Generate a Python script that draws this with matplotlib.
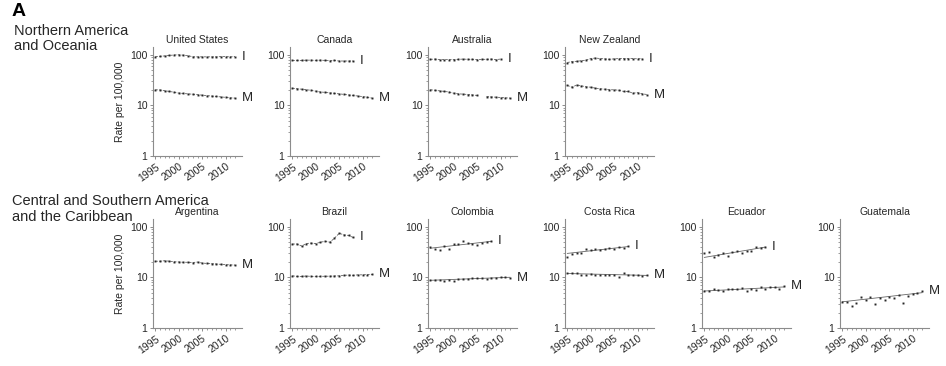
import numpy as np
import matplotlib
matplotlib.use("Agg")
import matplotlib.pyplot as plt
from matplotlib.ticker import FixedLocator, NullFormatter, LogLocator

plt.rcParams['font.family'] = ['Liberation Sans', 'DejaVu Sans']

years = list(range(1995, 2013))
nan = np.nan

# incidence (I) and mortality (M), rate per 100,000
us_inc = [93, 94, 96, 98, 100, 101, 99, 97, 92, 92, 92, 92, 92, 92, 93, 93, 92, 93]
us_mort = [20.5, 20.3, 19.6, 19.0, 18.3, 17.6, 17.3, 17.0, 16.7, 16.4, 16.0, 15.7, 15.4, 15.1, 14.8, 14.5, 14.2, 14.0]
ca_inc = [78, 78, 78, 79, 79, 78, 79, 78, 77, 78, 76, 76, 76, 76, nan, nan, nan, nan]
ca_mort = [22, 21.5, 21, 20.5, 20, 19.2, 18.5, 18.2, 17.8, 17.4, 17, 16.6, 16.2, 15.8, 15.4, 15, 14.6, 14.0]
au_inc = [82, 83, 81, 81, 81, 81, 82, 83, 82, 82, 81, 82, 82, 83, 81, 83, nan, nan]
au_mort = [20.5, 20, 19.5, 19, 18.5, 17.5, 17, 16.8, 16.5, 16.2, 15.8, nan, 15, 14.8, 14.6, 14.4, 14.2, 14]
nz_inc = [71, 74, 75, 77, 79, 85, 87, 85, 84, 82, 84, 85, 85, 85, 85, 84, 85, nan]
nz_mort = [25, 23, 25.5, 24.5, 23.5, 23, 22, 21.5, 21, 20.5, 20.5, 20, 19, 19, 17.5, 18, 17, 16.5]

ar_mort = [21, 21, 21.5, 21, 20.5, 20.3, 20, 20, 19.8, 20.2, 19.3, 19, 18.8, 18.5, 18.2, 18, 17.8, 17.6]
br_inc = [46, 46, 42, 47, 48, 47, 50, 52, 50, 60, 75, 70, 68, 62, nan, nan, nan, nan]
br_mort = [10.8, 10.5, 10.5, 10.7, 10.5, 10.5, 10.5, 10.6, 10.6, 10.7, 10.8, 11, 11.2, 11, 11.3, 11.3, 11.4, 11.5]
co_inc = [40, 37, 35, 43, 37, 46, 47, 52, 48, 47, 45, 49, 51, 52, nan, nan, nan, nan]
co_mort = [8.8, 8.8, 8.9, 8.7, 9.0, 8.7, 9.3, 9.4, 9.5, 9.6, 9.8, 9.6, 9.5, 9.6, 9.8, 10, 10.2, 9.6]
cr_inc = [26, 29, 31, 30, 36, 35, 36, 35, 37, 38, 37, 40, 39, 42, nan, nan, nan, nan]
cr_mort = [12.5, 12.3, 12.4, 11.3, 11.4, 11.8, 11.2, 11.4, 11.4, 11.3, 11.0, 10.3, 12.2, 11.3, 11.3, 11.4, 10.6, 11]
ec_inc = [31, 32, 26, 28, 31, 27, 32, 33, 30, 33, 34, 41, 38, 40, nan, nan, nan, nan]
ec_mort = [5.3, 5.5, 6.0, 5.7, 5.5, 5.8, 5.9, 6.0, 6.2, 5.5, 6.0, 5.6, 6.6, 5.9, 6.5, 6.5, 6.0, 6.8]
gt_mort = [3.3, 3.3, 2.7, 3.1, 4.2, 3.6, 4.2, 3.0, 3.9, 3.6, 4.2, 4.0, 4.5, 3.1, 4.4, 4.7, 4.9, 5.5]

# straight trend lines (start, end) where the points scatter; None -> line joins the points
co_inc_trend = [38, 52]
co_mort_trend = [8.8, 10.1]
cr_inc_trend = [30, 41]
cr_mort_trend = [12.0, 11.0]
ec_inc_trend = [25, 40]
ec_mort_trend = [5.4, 6.5]
gt_mort_trend = [3.3, 5.0]

top_row = [
    ("United States", us_inc, None, us_mort, None),
    ("Canada", ca_inc, None, ca_mort, None),
    ("Australia", au_inc, None, au_mort, None),
    ("New Zealand", nz_inc, None, nz_mort, None),
]
bottom_row = [
    ("Argentina", None, None, ar_mort, None),
    ("Brazil", br_inc, None, br_mort, None),
    ("Colombia", co_inc, co_inc_trend, co_mort, co_mort_trend),
    ("Costa Rica", cr_inc, cr_inc_trend, cr_mort, cr_mort_trend),
    ("Ecuador", ec_inc, ec_inc_trend, ec_mort, ec_mort_trend),
    ("Guatemala", None, None, gt_mort, gt_mort_trend),
]

W, H = 946, 366
fig = plt.figure(figsize=(W / 100, H / 100), dpi=100)
lefts = [153, 290, 428, 565, 702, 840]
ax_w = 89


def draw_series(ax, vals, trend, label):
    if vals is None:
        return
    x = np.array(years, dtype=float)
    y = np.array(vals, dtype=float)
    ok = ~np.isnan(y)
    if trend is None:
        ax.plot(x, y, color='0.4', lw=0.6, ls=(0, (3, 1.5)), zorder=2)
    else:
        xs = x[ok]
        ax.plot([xs[0], xs[-1]], trend, color='0.4', lw=0.6, zorder=2)
    ax.plot(x[ok], y[ok], ls='none', marker='s', ms=1.4, mew=0, color='0.15', zorder=3)
    last = np.where(ok)[0][-1]
    ax.annotate(label, (x[last], y[last]), xytext=(5, 0), textcoords='offset points',
                ha='left', va='center', fontsize=9.5, color='0.15')


def make_panel(left_px, top_px, bottom_px, panel, first):
    title, inc, inc_tr, mort, mort_tr = panel
    ax = fig.add_axes([left_px / W, 1 - bottom_px / H, ax_w / W, (bottom_px - top_px) / H])
    ax.set_yscale('log')
    ax.set_ylim(1, 144)
    ax.set_xlim(1994.5, 2013.5)
    for s in ['top', 'right']:
        ax.spines[s].set_visible(False)
    for s in ['left', 'bottom']:
        ax.spines[s].set_color('0.55')
        ax.spines[s].set_linewidth(0.8)
    ax.set_yticks([1, 10, 100])
    ax.set_yticklabels(['1', '10', '100'])
    ax.yaxis.set_minor_locator(LogLocator(subs=np.arange(2, 10)))
    ax.yaxis.set_minor_formatter(NullFormatter())
    ax.set_xticks([1995, 2000, 2005, 2010])
    ax.set_xticklabels(['1995', '2000', '2005', '2010'], rotation=35, ha='right',
                       rotation_mode='anchor')
    ax.xaxis.set_minor_locator(FixedLocator(years))
    ax.tick_params(which='both', direction='out', color='0.55', labelsize=7.5,
                   labelcolor='0.15', pad=1.5)
    ax.tick_params(which='major', length=2.5, width=0.7)
    ax.tick_params(which='minor', length=1.5, width=0.6)
    ax.set_title(title, fontsize=7.5, color='0.15', pad=3)
    if first:
        ax.set_ylabel('Rate per 100,000', fontsize=7.5, color='0.15', labelpad=4)
    draw_series(ax, inc, inc_tr, 'I')
    draw_series(ax, mort, mort_tr, 'M')


for i, p in enumerate(top_row):
    make_panel(lefts[i], 47, 156, p, i == 0)
for i, p in enumerate(bottom_row):
    make_panel(lefts[i], 219, 328, p, i == 0)

fig.text(12 / W, 1 - 3 / H, 'A', fontsize=14, fontweight='bold', va='top', ha='left')
fig.text(14 / W, 1 - 24 / H, 'Northern America', fontsize=10.5,
         va='top', ha='left', color='0.15')
fig.text(14 / W, 1 - 39 / H, 'and Oceania', fontsize=10.5,
         va='top', ha='left', color='0.15')
fig.text(12 / W, 1 - 194 / H, 'Central and Southern America', fontsize=10.5,
         va='top', ha='left', color='0.15')
fig.text(12 / W, 1 - 210 / H, 'and the Caribbean', fontsize=10.5,
         va='top', ha='left', color='0.15')

fig.savefig('out.png', dpi=100)
